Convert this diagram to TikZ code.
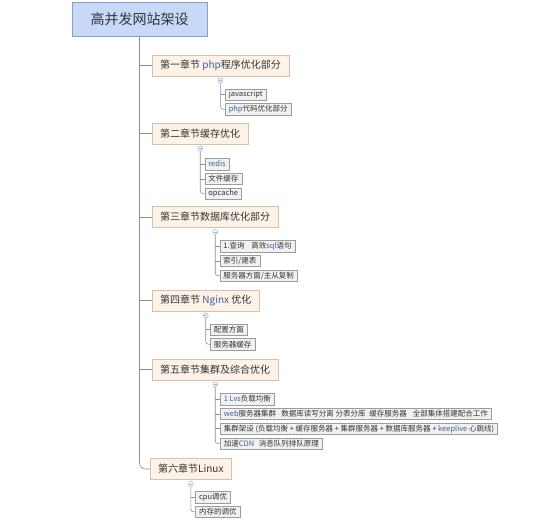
\documentclass[tikz,border=0pt]{standalone}
\usepackage{fontspec}
\setmainfont{Noto Sans CJK SC}
\usetikzlibrary{positioning, calc, shadows}
\definecolor{rootfill}{HTML}{C8D9F8}
\definecolor{rootline}{HTML}{8A9DC4}
\definecolor{chapfill}{HTML}{FDF2E8}
\definecolor{chapline}{HTML}{D5C0AC}
\definecolor{leaffill}{HTML}{F1F1F1}
\definecolor{leafline}{HTML}{9C9C9C}
\definecolor{linegray}{HTML}{8E8E8E}
\definecolor{knobline}{HTML}{9DB1D3}
\definecolor{txt}{HTML}{333333}
\definecolor{hlblue}{HTML}{3F5F96}
\newcommand{\hl}[1]{\textcolor{hlblue}{#1}}
\tikzset{
  lnk/.style={draw=linegray, line width=0.6pt},
  rootbox/.style={draw=rootline, fill=rootfill, text=txt, font=\fontsize{14}{16}\selectfont,
    minimum width=135pt, minimum height=34pt, inner sep=2pt},
  chap/.style={draw=chapline, fill=chapfill, text=txt, font=\fontsize{10}{12}\selectfont,
    inner xsep=8pt, inner ysep=0pt, minimum height=21pt, anchor=west},
  leaf/.style={draw=leafline, fill=leaffill, text=txt, font=\fontsize{7.5}{9}\selectfont,
    inner xsep=3.5pt, inner ysep=0pt, minimum height=11.5pt,
    general shadow={fill=black!28, shadow xshift=0.8pt, shadow yshift=-0.8pt}},
  knob/.style={circle, draw=knobline, fill=white, minimum size=5pt, inner sep=0pt, line width=0.5pt,
    path picture={\draw[knobline, line width=0.5pt] ([xshift=1.2pt]path picture bounding box.west) -- ([xshift=-1.2pt]path picture bounding box.east);}}
}
\begin{document}
\begin{tikzpicture}[x=1pt, y=-1pt]
\useasboundingbox (0,0) rectangle (554,520);
\node[rootbox] (root) at (139.5,19) {高并发网站架设};

\node[chap] (c1) at (152,65.5) {第一章节 \hl{php}程序优化部分};
\node[chap] (c2) at (152,133.5) {第二章节缓存优化};
\node[chap] (c3) at (152,217) {第三章节数据库优化部分};
\node[chap] (c4) at (152,300.5) {第四章节 \hl{Nginx} 优化};
\node[chap] (c5) at (152,369.5) {第五章节集群及综合优化};
\node[chap] (c6) at (150,469) {第六章节Linux};

\draw[lnk, rounded corners=6pt] (root.south) |- (c6.west);
\foreach \c in {c1,c2,c3,c4,c5}
  \draw[lnk] (root.south |- \c.west) -- (\c.west);

% chapter 1
\node[knob, below=1.5pt of c1] (k1) {};
\node[leaf, anchor=west] (c1a) at ($(k1)+(4.5,14)$) {javascript};
\node[leaf, below=3pt of c1a.south west, anchor=north west] (c1b) {\hl{php}代码优化部分};
\draw[lnk] (k1.south |- c1a.west) -- (c1a.west);
\draw[lnk, rounded corners=3pt] (k1.south) |- (c1b.west);

% chapter 2
\node[knob, below=1.5pt of c2] (k2) {};
\node[leaf, anchor=west] (c2a) at ($(k2)+(4.5,15.5)$) {\hl{redis}};
\node[leaf, below=3pt of c2a.south west, anchor=north west] (c2b) {文件缓存};
\node[leaf, below=3pt of c2b.south west, anchor=north west] (c2c) {opcache};
\draw[lnk] (k2.south |- c2a.west) -- (c2a.west);
\draw[lnk] (k2.south |- c2b.west) -- (c2b.west);
\draw[lnk, rounded corners=3pt] (k2.south) |- (c2c.west);

% chapter 3
\node[knob, below=1.5pt of c3] (k3) {};
\node[leaf, anchor=west] (c3a) at ($(k3)+(4.5,14)$) {1.查询\hspace{0.9em}高效\hl{sql}语句};
\node[leaf, below=3pt of c3a.south west, anchor=north west] (c3b) {索引/建表};
\node[leaf, below=3pt of c3b.south west, anchor=north west] (c3c) {服务器方面/主从复制};
\draw[lnk] (k3.south |- c3a.west) -- (c3a.west);
\draw[lnk] (k3.south |- c3b.west) -- (c3b.west);
\draw[lnk, rounded corners=3pt] (k3.south) |- (c3c.west);

% chapter 4
\node[knob, below=1.5pt of c4] (k4) {};
\node[leaf, anchor=west] (c4a) at ($(k4)+(4.5,14)$) {配置方面};
\node[leaf, below=3pt of c4a.south west, anchor=north west] (c4b) {服务器缓存};
\draw[lnk] (k4.south |- c4a.west) -- (c4a.west);
\draw[lnk, rounded corners=3pt] (k4.south) |- (c4b.west);

% chapter 5
\node[knob, below=1.5pt of c5] (k5) {};
\node[leaf, anchor=west] (c5a) at ($(k5)+(5,14.5)$) {\hl{1 Lvs}负载均衡};
\node[leaf, below=3pt of c5a.south west, anchor=north west] (c5b)
  {\hl{web}服务器集群\hspace{0.7em}数据库读写分离 分表分库\hspace{0.5em}缓存服务器\hspace{0.8em}全部集体搭建配合工作};
\node[leaf, below=3pt of c5b.south west, anchor=north west] (c5c)
  {集群架设 (负载均衡 + 缓存服务器 + 集群服务器 + 数据库服务器 + \hl{keeplive} 心跳线)};
\node[leaf, below=3pt of c5c.south west, anchor=north west] (c5d) {加速\hl{CDN}\hspace{0.6em}消息队列排队原理};
\draw[lnk] (k5.south |- c5a.west) -- (c5a.west);
\draw[lnk] (k5.south |- c5b.west) -- (c5b.west);
\draw[lnk] (k5.south |- c5c.west) -- (c5c.west);
\draw[lnk, rounded corners=3pt] (k5.south) |- (c5d.west);

% chapter 6
\node[knob, below=1.5pt of c6] (k6) {};
\node[leaf, anchor=west] (c6a) at ($(k6)+(4.5,13)$) {cpu调优};
\node[leaf, below=3pt of c6a.south west, anchor=north west] (c6b) {内存的调优};
\draw[lnk] (k6.south |- c6a.west) -- (c6a.west);
\draw[lnk, rounded corners=3pt] (k6.south) |- (c6b.west);
\end{tikzpicture}
\end{document}
